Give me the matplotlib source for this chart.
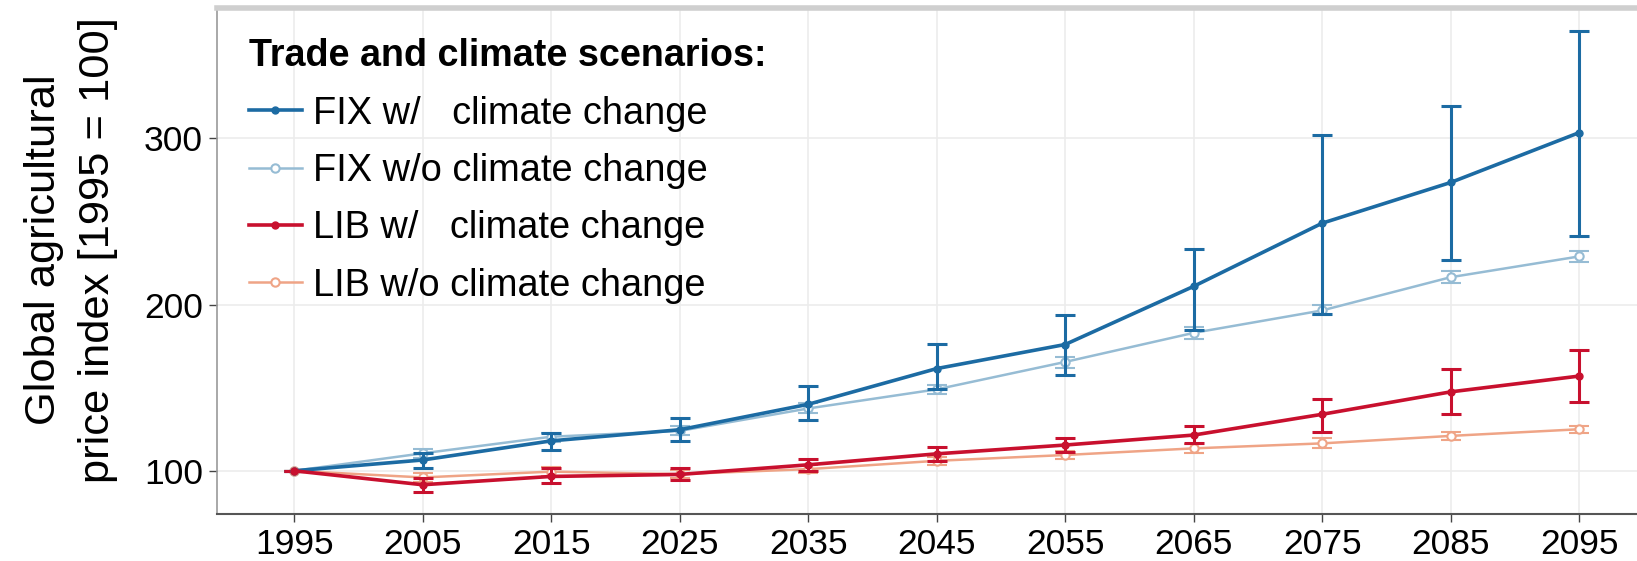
#price index chart, trade and climate scenarios

import numpy as np
import matplotlib.pyplot as plt
from matplotlib.lines import Line2D

plt.rcParams['font.family'] = ['Liberation Sans', 'DejaVu Sans']

#DATA
years = [1995, 2005, 2015, 2025, 2035, 2045, 2055, 2065, 2075, 2085, 2095]

fix_cc = [100, 106.5, 118, 124.7, 140, 161.5, 176, 211, 249, 273.5, 303.5]
fix_cc_lo = [100, 101.8, 112.5, 118, 130.7, 149.5, 157.5, 185, 194.5, 227, 241.5]
fix_cc_hi = [100, 111, 123, 131.5, 151, 176.5, 194, 233.5, 302, 319.5, 364.5]

fix_nocc = [100, 110.5, 120.5, 124, 137.5, 149, 165.5, 183, 196.5, 216.5, 229]
fix_nocc_lo = [100, 107.5, 117.5, 121.5, 134.5, 146.5, 162, 179.5, 193.5, 213, 225.5]
fix_nocc_hi = [100, 113, 123, 127, 141, 151.5, 168.5, 186.5, 199.5, 220, 232]

lib_cc = [100, 91.6, 96.6, 97.8, 103.6, 110.2, 115.5, 121.5, 134, 147.5, 157]
lib_cc_lo = [100, 87.5, 92.6, 94.6, 99.6, 105.6, 111.6, 116.8, 123.6, 134, 141.5]
lib_cc_hi = [100, 95.6, 101.6, 101.6, 107, 114.6, 119.7, 127.2, 143.2, 161, 172.5]

lib_nocc = [100, 96, 99.5, 98, 101, 106, 109.5, 113.5, 116.5, 121, 125]
lib_nocc_lo = [100, 93.5, 97, 95.5, 98.5, 103.5, 107, 111, 113.5, 118.5, 123]
lib_nocc_hi = [100, 98.5, 102, 100.5, 103.5, 108.5, 112, 116, 119.5, 123.5, 127]

labels = ['FIX w/   climate change', 'FIX w/o climate change',
          'LIB w/   climate change', 'LIB w/o climate change']
colors = ['#1c6ba3', '#96bcd4', '#c8102e', '#efa486']

fig = plt.figure(figsize=(16.37, 5.61), dpi=100)
ax = fig.add_axes([217/1637, 1-514/561, 1-217/1637, (514-8)/561])

#series: (values, lo, hi, color, thick?)
series = [
    (fix_nocc, fix_nocc_lo, fix_nocc_hi, colors[1], False),
    (lib_nocc, lib_nocc_lo, lib_nocc_hi, colors[3], False),
    (fix_cc, fix_cc_lo, fix_cc_hi, colors[0], True),
    (lib_cc, lib_cc_lo, lib_cc_hi, colors[2], True),
]
for vals, lo, hi, c, thick in series:
    v = np.array(vals)
    yerr = [v - np.array(lo), np.array(hi) - v]
    if thick:
        ax.errorbar(years, v, yerr=yerr, color=c, lw=2.6, elinewidth=2.2,
                    capsize=7, capthick=2.2, marker='o', ms=5, zorder=4)
    else:
        ax.errorbar(years, v, yerr=yerr, color=c, lw=1.8, elinewidth=1.5,
                    capsize=7, capthick=1.5, marker='o', ms=6, mfc='white',
                    mew=1.5, zorder=3)

ax.set_xlim(1989, 2099.5)
ax.set_ylim(74, 378.5)
ax.set_xticks(years)
ax.set_yticks([100, 200, 300])
ax.grid(True, color='#ececec', lw=1.2)
ax.set_axisbelow(True)
ax.tick_params(labelsize=25.5, length=6, width=1, color='#444444', pad=4)

ax.spines['right'].set_visible(False)
ax.spines['top'].set_color('#cfcfcf')
ax.spines['top'].set_linewidth(4)
ax.spines['left'].set_color('#999999')
ax.spines['left'].set_linewidth(1.2)
ax.spines['bottom'].set_color('#555555')
ax.spines['bottom'].set_linewidth(1.5)

fig.text(71/1637, 0.555, 'Global agricultural\nprice index [1995 = 100]',
         rotation=90, ha='center', va='center', fontsize=31.3, linespacing=1.42,
         multialignment='center')

#legend
handles = [Line2D([], [], color=colors[0], lw=2.6, marker='o', ms=5),
           Line2D([], [], color=colors[1], lw=1.8, marker='o', ms=6, mfc='white', mew=1.5),
           Line2D([], [], color=colors[2], lw=2.6, marker='o', ms=5),
           Line2D([], [], color=colors[3], lw=1.8, marker='o', ms=6, mfc='white', mew=1.5)]
leg = ax.legend(handles, labels, loc='upper left', bbox_to_anchor=(0.0223, 0.94),
                borderaxespad=0, borderpad=0, frameon=False, fontsize=27.4,
                title='Trade and climate scenarios:',
                title_fontproperties={'weight': 'bold', 'size': 27.2},
                alignment='left', handlelength=1.4, handletextpad=0.3,
                labelspacing=0.56)

fig.savefig('out.png', dpi=100)
